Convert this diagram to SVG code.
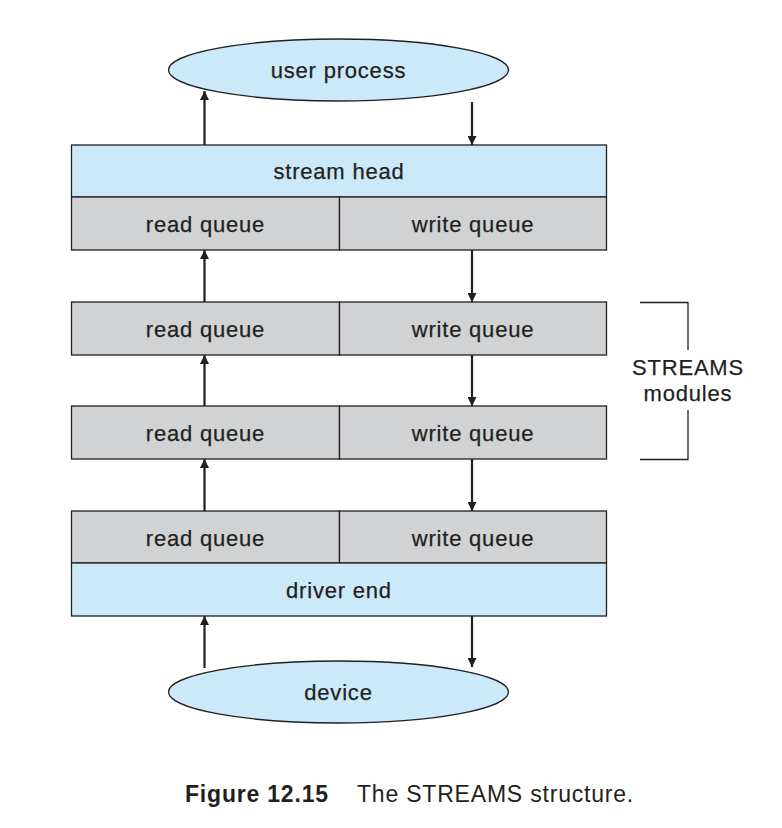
<svg xmlns="http://www.w3.org/2000/svg" width="782" height="828" viewBox="0 0 782 828">
<defs>
<marker id="ah" viewBox="0 0 10 10" refX="10" refY="5" markerWidth="10" markerHeight="9" markerUnits="userSpaceOnUse" orient="auto">
<path d="M0,0 L10,5 L0,10 z" fill="#231f20"/>
</marker>
<style>
.blue{fill:#cce9f9;stroke:#231f20;stroke-width:1.3}
.gray{fill:#d1d2d4;stroke:#231f20;stroke-width:1.3}
.lbl{font-family:"Liberation Sans",Arial,sans-serif;font-size:22px;letter-spacing:0.8px;fill:#231f20;stroke:#231f20;stroke-width:0.25;text-anchor:middle}
.conn line{stroke:#231f20;stroke-width:2.2;marker-end:url(#ah)}
.br{fill:none;stroke:#231f20;stroke-width:1.3}
.cap{font-family:"Liberation Sans",Arial,sans-serif;font-size:23px;letter-spacing:0.8px;fill:#231f20}
</style>
</defs>
<rect width="782" height="828" fill="#fff"/>
<g id="user-process">
<ellipse class="blue" cx="338.5" cy="70" rx="170" ry="31"/>
<text class="lbl" x="338.5" y="78">user process</text>
</g>
<g id="stream-head">
<rect class="blue" x="71.5" y="145" width="535" height="52"/>
<text class="lbl" x="339" y="179">stream head</text>
</g>
<g id="head-queues">
<rect class="gray" x="71.5" y="197" width="268" height="53"/>
<rect class="gray" x="339.5" y="197" width="267" height="53"/>
<text class="lbl" x="205.5" y="232">read queue</text>
<text class="lbl" x="473" y="232">write queue</text>
</g>
<g id="module1">
<rect class="gray" x="71.5" y="302" width="268" height="53"/>
<rect class="gray" x="339.5" y="302" width="267" height="53"/>
<text class="lbl" x="205.5" y="337">read queue</text>
<text class="lbl" x="473" y="337">write queue</text>
</g>
<g id="module2">
<rect class="gray" x="71.5" y="406" width="268" height="53"/>
<rect class="gray" x="339.5" y="406" width="267" height="53"/>
<text class="lbl" x="205.5" y="441">read queue</text>
<text class="lbl" x="473" y="441">write queue</text>
</g>
<g id="driver-queues">
<rect class="gray" x="71.5" y="511" width="268" height="52"/>
<rect class="gray" x="339.5" y="511" width="267" height="52"/>
<text class="lbl" x="205.5" y="546">read queue</text>
<text class="lbl" x="473" y="546">write queue</text>
</g>
<g id="driver-end">
<rect class="blue" x="71.5" y="563" width="535" height="53"/>
<text class="lbl" x="339" y="598">driver end</text>
</g>
<g id="device">
<ellipse class="blue" cx="338.5" cy="692" rx="170" ry="31"/>
<text class="lbl" x="338.5" y="700">device</text>
</g>
<g id="streams-modules">
<path class="br" d="M640,302.5 H688 V350 M688,410 V459.5 H640"/>
<text class="lbl" x="688" y="375">STREAMS</text>
<text class="lbl" x="688" y="401">modules</text>
</g>
<g id="connectors" class="conn">
<line x1="204.5" y1="145" x2="204.5" y2="91"/>
<line x1="472" y1="102" x2="472" y2="145"/>
<line x1="204.5" y1="302" x2="204.5" y2="250"/>
<line x1="472" y1="250" x2="472" y2="302"/>
<line x1="204.5" y1="406" x2="204.5" y2="355"/>
<line x1="472" y1="355" x2="472" y2="406"/>
<line x1="204.5" y1="511" x2="204.5" y2="459"/>
<line x1="472" y1="459" x2="472" y2="511"/>
<line x1="204.5" y1="668" x2="204.5" y2="616"/>
<line x1="472" y1="616" x2="472" y2="667"/>
</g>
<g id="caption">
<text class="cap" x="185" y="802" font-weight="bold">Figure 12.15</text>
<text class="cap" x="357" y="802">The STREAMS structure.</text>
</g>
</svg>
